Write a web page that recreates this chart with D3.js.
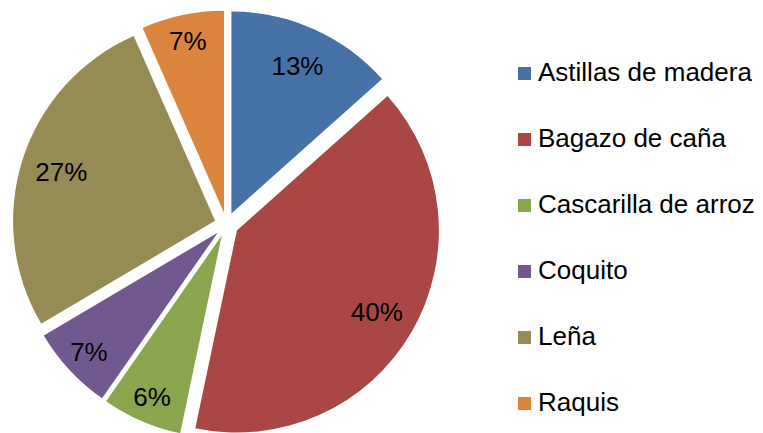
<!DOCTYPE html>
<html>
<head>
<meta charset="utf-8">
<script src="https://cdnjs.cloudflare.com/ajax/libs/d3/7.8.5/d3.min.js"></script>
<style>
    html, body { margin: 0; padding: 0; background: #fff; }
    svg text { font-family: "Liberation Sans", Arial, sans-serif; fill: #000; }
</style>
</head>
<body>
<div id="chart"></div>
<script>
    const categories = ["Astillas de madera", "Bagazo de caña", "Cascarilla de arroz", "Coquito", "Leña", "Raquis"];
    const values = [13.4, 39.9, 6.4, 6.8, 26.9, 6.6];
    const colors = ["#4672A8", "#AA4644", "#89A54E", "#71588F", "#968B54", "#DB843D"];

    const width = 763, height = 433;
    const center = {x: 226.5, y: 224.5};
    const radius = 202;
    const explode = 12;

    const svg = d3.select("#chart").append("svg")
        .attr("width", width)
        .attr("height", height);

    const total = d3.sum(values);
    const data = categories.map((c, i) => ({name: c, value: values[i], color: colors[i]}));

    const pie = d3.pie().sort(null).value(d => d.value);
    const arc = d3.arc().innerRadius(0).outerRadius(radius);
    const arcs = pie(data);

    const mid = d => (d.startAngle + d.endAngle) / 2;

    const g = svg.append("g").attr("transform", "translate(" + center.x + "," + center.y + ")");

    // exploded slices
    g.selectAll(".slice")
        .data(arcs)
        .enter().append("path")
        .attr("class", "slice")
        .attr("fill", d => d.data.color)
        .attr("transform", d => "translate(" + (Math.sin(mid(d)) * explode) + "," + (-Math.cos(mid(d)) * explode) + ")")
        .attr("d", arc);

    // percent labels, small slices pushed further out
    g.selectAll(".label")
        .data(arcs)
        .enter().append("text")
        .attr("class", "label")
        .attr("text-anchor", "middle")
        .attr("dy", "0.36em")
        .style("font-size", "26px")
        .attr("transform", d => {
            let pct = d.data.value / total * 100;
            let r = explode + radius * 0.8 + (pct < 10 ? 14 : 0);
            return "translate(" + (Math.sin(mid(d)) * r) + "," + (-Math.cos(mid(d)) * r) + ")";
        })
        .text(d => Math.round(d.data.value / total * 100) + "%");

    // legend
    const legendY = d3.scalePoint().domain(categories).range([81, 411]);

    const legend = svg.append("g").attr("class", "legend")
        .selectAll("g")
        .data(data)
        .enter().append("g")
        .attr("transform", d => "translate(518," + legendY(d.name) + ")");

    legend.append("rect")
        .attr("x", 0)
        .attr("y", -14)
        .attr("width", 13)
        .attr("height", 13)
        .attr("fill", d => d.color);

    legend.append("text")
        .attr("x", 20)
        .attr("y", 0)
        .style("font-size", "26px")
        .text(d => d.name);
</script>
</body>
</html>
